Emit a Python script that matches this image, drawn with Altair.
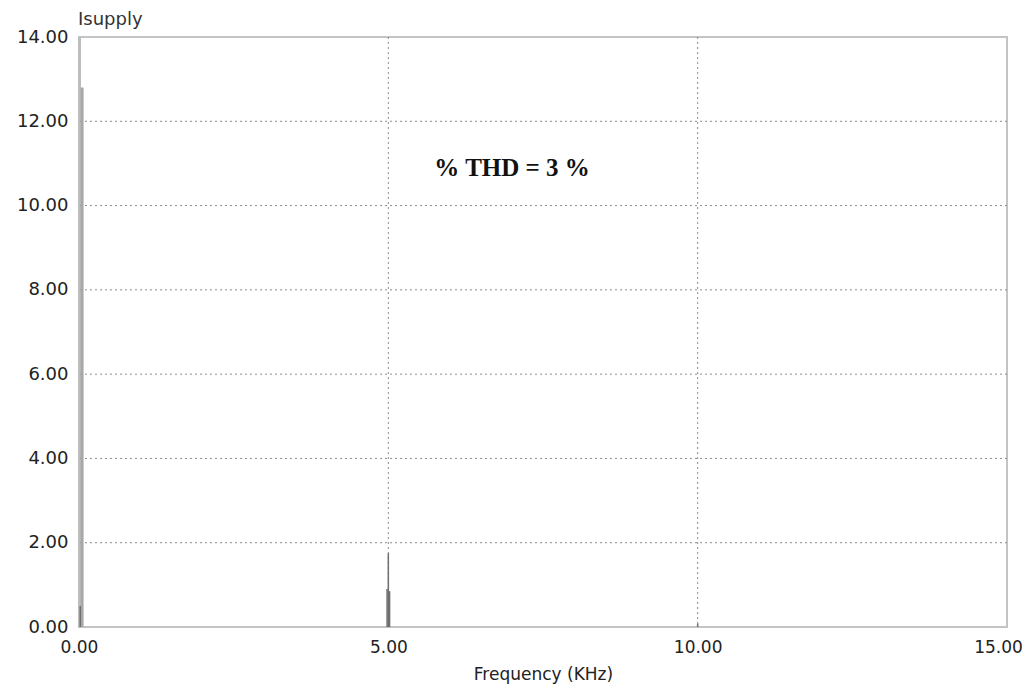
import altair as alt
import pandas as pd

# Spectrum lines (frequency in kHz, amplitude)
freq_khz = [0.05, 0.02, 5.00, 4.98, 5.02, 10.00]
amplitude = [12.8, 0.5, 1.75, 0.9, 0.85, 0.08]
line_group = ["main", "minor", "thin", "minor", "minor", "minor"]

x_ticks = [0, 5, 10, 15]
y_ticks = [0, 2, 4, 6, 8, 10, 12, 14]
x_grid = [5, 10]
y_grid = [2, 4, 6, 8, 10, 12]

note_text = ["% THD = 3 %"]
note_x = [7.0]
note_y = [10.9]

chart_title = ["Isupply"]

df = pd.DataFrame({"f": freq_khz, "a": amplitude, "g": line_group})
note = pd.DataFrame({"t": note_text, "x": note_x, "y": note_y})
gx = pd.DataFrame({"v": x_grid})
gy = pd.DataFrame({"v": y_grid})
tdf = pd.DataFrame({"t": chart_title})

xscale = alt.Scale(domain=[0, 15], nice=False, zero=False)
yscale = alt.Scale(domain=[0, 14], nice=False)

x_axis = alt.Axis(values=x_ticks, format=".2f", title="Frequency (KHz)",
                  grid=False, ticks=False, domain=False, labelPadding=12,
                  labelFlush=False, labelBound=False,
                  labelOffset={"condition": {"test": "datum.value == 15", "value": -9},
                               "value": 0},
                  labelFont="DejaVu Sans", labelFontSize=17, labelColor="#222",
                  titleFont="DejaVu Sans", titleFontSize=17, titleColor="#222",
                  titleFontWeight="normal", titlePadding=11)
y_axis = alt.Axis(values=y_ticks, format=".2f", title=None,
                  grid=False, ticks=False, domainColor="#bdbdbd", domainWidth=3,
                  labelPadding=11, labelFlush=False,
                  labelFont="DejaVu Sans", labelFontSize=18, labelColor="#222")

grid_style = dict(color="#8c8c8c", strokeWidth=1, strokeDash=[2, 3])

vgrid = alt.Chart(gx).mark_rule(**grid_style).encode(
    x=alt.X("v:Q", scale=xscale, axis=x_axis)
)
hgrid = alt.Chart(gy).mark_rule(**grid_style).encode(
    y=alt.Y("v:Q", scale=yscale, axis=y_axis)
)

spikes = alt.Chart(df).mark_rule().encode(
    x=alt.X("f:Q", scale=xscale, axis=x_axis),
    y=alt.Y("a:Q", scale=yscale, axis=y_axis),
    y2=alt.datum(0),
    strokeWidth=alt.condition("datum.g == 'main'", alt.value(3), alt.value(1.5)),
    color=alt.condition("datum.g == 'main'", alt.value("#a8a8a8"), alt.value("#6e6e6e")),
)

label = alt.Chart(note).mark_text(
    font="Liberation Serif", fontWeight="bold", fontSize=25, color="#111",
    align="center", baseline="middle"
).encode(
    x=alt.X("x:Q", scale=xscale, axis=x_axis),
    y=alt.Y("y:Q", scale=yscale, axis=y_axis),
    text="t:N",
)

title_mark = alt.Chart(tdf).mark_text(
    font="DejaVu Sans", fontSize=18, color="#333", align="left", baseline="alphabetic"
).encode(
    x=alt.value(-1), y=alt.value(-12), text="t:N"
)

chart = alt.layer(vgrid, hgrid, spikes, label, title_mark).properties(
    width=928,
    height=590,
    autosize=alt.AutoSizeParams(type="none"),
    padding={"left": 71, "top": 29, "right": 17, "bottom": 61},
).configure(
    background="white",
    view=alt.ViewConfig(stroke="#c4c4c4", strokeWidth=2),
)

chart.save("out.html", embed_options={"renderer": "svg", "actions": False})
